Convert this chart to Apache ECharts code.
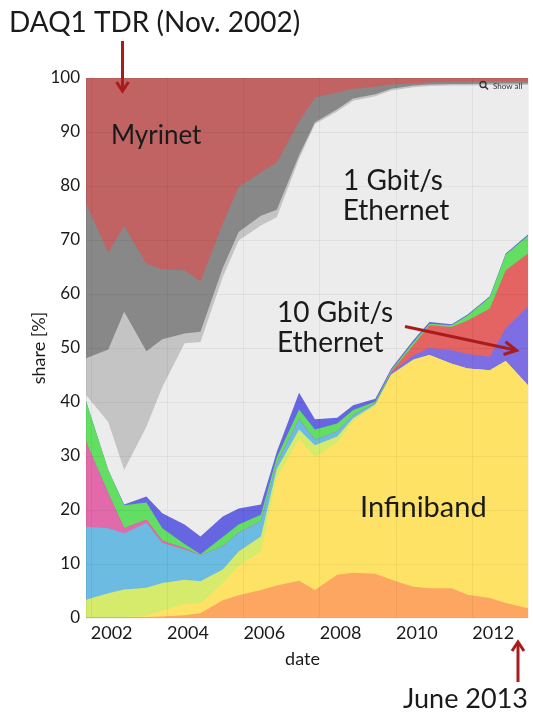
<!DOCTYPE html>
<html><head><meta charset="utf-8">
<script src="https://cdn.jsdelivr.net/npm/echarts@6/dist/echarts.min.js"></script>
<style>html,body{margin:0;padding:0;background:#fff;}#c{width:533px;height:713px;}</style>
</head><body><div id="c"></div>
<script>
// Top500 list dates (June / November)
const dates = ['2001-11','2002-06','2002-11','2003-06','2003-11','2004-06','2004-11','2005-06','2005-11',
  '2006-06','2006-11','2007-06','2007-11','2008-06','2008-11','2009-06','2009-11','2010-06','2010-11',
  '2011-06','2011-11','2012-06','2012-11','2013-06'];
const xTickYears = [2002, 2004, 2006, 2008, 2010, 2012];
// share [%] per interconnect family, bottom to top of the stack
const custom      = [0.2,0.2,0.2,0.2,0.3,0.5,0.9,3.3,4.2,5.2,6.0,6.9,5.2,8.0,8.4,8.2,7.1,5.8,5.5,5.5,4.3,3.7,2.8,1.8];
const infiniband  = [0,0,0,0.2,1.1,2.1,1.8,3.2,5.5,7.1,20.0,26.2,24.6,24.5,28.1,31.1,37.9,42.0,43.2,41.6,41.9,42.2,44.8,41.3];
const quadrics    = [3.2,4.4,5.1,5.2,5.1,4.5,4.1,2.5,2.6,2.8,1.6,1.8,2.2,1.1,0.5,0.3,0.1,0.05,0,0,0,0,0,0];
const crossbar    = [13.5,12.0,10.4,12.0,7.4,5.6,4.8,4.3,3.5,2.8,1.0,1.9,1.0,0.9,0.5,0.2,0.1,0.05,0,0,0,0,0,0];
const spSwitch    = [15.7,6.5,0.9,0.6,0.4,0.2,0,0,0,0,0,0,0,0,0,0,0,0,0,0,0,0,0,0];
const tenGbE      = [0,0,0,0,0,0,0,0,0,0,0,0,0,0,0,0,0.2,0.7,1.3,2.5,2.7,2.5,6.0,14.6];
const proprietary = [0,0,0,0,0,0,0,0,0,0,0,0,0,0,0,0,0.2,2.0,4.2,4.3,6.2,8.9,10.8,9.8];
const numalink    = [7.6,4.3,4.3,3.2,2.3,0.8,0.2,1.7,1.5,1.2,1.1,1.8,1.9,1.5,1.0,0.3,0.3,0.5,0.3,0.3,0.9,2.1,2.9,3.3];
const otherNet    = [0,0,0.1,1.1,2.8,3.6,3.3,3.8,3.0,1.9,1.1,3.1,1.9,1.1,0.9,0.5,0.3,0.4,0.3,0.2,0.2,0.2,0.2,0.2];
const gbE         = [1.1,8.9,6.4,12.9,23.4,33.6,36.0,44.3,49.6,51.7,43.4,43.3,54.7,56.7,56.4,56.0,51.5,46.8,43.7,44.2,42.4,39.1,31.2,27.7];
const fastEth     = [6.8,13.4,29.3,14.0,8.8,1.8,1.9,1.7,1.6,1.8,1.4,0.7,0.3,0.4,0.4,0.4,0.3,0.3,0.3,0.3,0.3,0.3,0.3,0.3];
const mixed       = [28.6,18.0,15.9,16.2,13.0,11.7,9.3,8.2,8.3,8.0,8.8,6.2,4.6,3.1,1.8,1.4,0.8,0.4,0.4,0.4,0.4,0.4,0.4,0.4];
const myrinet     = [23.3,32.3,27.4,34.4,35.4,35.6,37.7,27.0,20.2,17.5,15.6,8.1,3.6,2.7,2.0,1.6,1.2,1.0,0.8,0.7,0.7,0.6,0.6,0.6];

const layers = [
  ['Custom', custom, '#fca662'],
  ['Infiniband', infiniband, '#fee266'],
  ['Quadrics', quadrics, '#d6eb6c'],
  ['Crossbar', crossbar, '#6bbbe2'],
  ['SP Switch', spSwitch, '#e26aaa'],
  ['10 Gbit/s Ethernet', tenGbE, '#7d6ee4'],
  ['Proprietary', proprietary, '#e46464'],
  ['NUMAlink', numalink, '#62de62'],
  ['Other', otherNet, '#6666e2'],
  ['1 Gbit/s Ethernet', gbE, '#ececec'],
  ['Fast Ethernet', fastEth, '#c4c4c4'],
  ['Mixed', mixed, '#888888'],
  ['Myrinet', myrinet, '#c16363']
];

const toYear = d => { const p = d.split('-').map(Number); return p[0] + (p[1] - 0.5) / 12; };
const xs = dates.map(toYear);

// cumulative tops of each layer (stacking done here, drawn top layer first)
const running = xs.map(() => 0);
const stacked = layers.map(([name, vals, color]) => {
  const tops = vals.map((v, i) => (running[i] = +(running[i] + v).toFixed(3)));
  return {name, color, tops};
});

const FONT = 'Lato, "DejaVu Sans", sans-serif';
const INK = '#1a1a1a';
const ARROW = '#a81c1c';

const chart = echarts.init(document.getElementById('c'), null, {renderer: 'canvas'});
chart.setOption({
  animation: false,
  backgroundColor: '#ffffff',
  grid: {left: 86, right: 5, top: 78, bottom: 95},
  xAxis: {
    type: 'value', min: xs[0], max: xs[xs.length - 1], z: 10,
    axisLine: {show: false}, axisTick: {show: false},
    axisLabel: {customValues: xTickYears, formatter: v => String(Math.round(v)), align: 'left',
      margin: 6, fontFamily: FONT, fontSize: 18, color: INK},
    splitLine: {show: true, lineStyle: {color: 'rgba(0,0,0,0.05)', width: 1}},
    name: 'date', nameLocation: 'middle', nameGap: 32, nameMoveOverlap: false,
    nameTextStyle: {fontFamily: FONT, fontSize: 18, color: INK, padding: [0, 9, 0, 0]}
  },
  yAxis: {
    type: 'value', min: 0, max: 100, interval: 10, z: 10,
    axisLine: {show: false}, axisTick: {show: false},
    axisLabel: {margin: 6, fontFamily: FONT, fontSize: 17, color: INK},
    splitLine: {show: true, lineStyle: {color: 'rgba(0,0,0,0.05)', width: 1}},
    name: 'share [%]', nameLocation: 'middle', nameGap: 38, nameRotate: 90, nameMoveOverlap: false,
    nameTextStyle: {fontFamily: FONT, fontSize: 18, color: INK}
  },
  series: stacked.slice().reverse().map(({name, color, tops}) => ({
    name, type: 'line', symbol: 'none', silent: true,
    lineStyle: {width: 0}, areaStyle: {color, opacity: 1, origin: 'start'}, itemStyle: {color},
    emphasis: {disabled: true},
    data: xs.map((x, i) => [x, tops[i]])
  })),
  graphic: [
    {type: 'text', style: {x: 9, y: 23, text: 'DAQ1 TDR (Nov. 2002)', font: '28px ' + FONT, fill: INK, textVerticalAlign: 'middle'}},
    {type: 'text', style: {x: 403, y: 699, text: 'June 2013', font: '27px ' + FONT, fill: INK, textVerticalAlign: 'middle'}},
    {type: 'text', z: 100, style: {x: 111, y: 136, text: 'Myrinet', font: '26px ' + FONT, fill: INK, textVerticalAlign: 'middle'}},
    {type: 'text', z: 100, style: {x: 393, y: 181, text: '1 Gbit/s', font: '28px ' + FONT, fill: INK, textAlign: 'center', textVerticalAlign: 'middle'}},
    {type: 'text', z: 100, style: {x: 396, y: 211, text: 'Ethernet', font: '28px ' + FONT, fill: INK, textAlign: 'center', textVerticalAlign: 'middle'}},
    {type: 'text', z: 100, style: {x: 277, y: 313, text: '10 Gbit/s', font: '28px ' + FONT, fill: INK, textVerticalAlign: 'middle'}},
    {type: 'text', z: 100, style: {x: 277, y: 343, text: 'Ethernet', font: '28px ' + FONT, fill: INK, textVerticalAlign: 'middle'}},
    {type: 'text', z: 100, style: {x: 360, y: 508, text: 'Infiniband', font: '29px ' + FONT, fill: INK, textVerticalAlign: 'middle'}},
    {type: 'text', z: 100, style: {x: 493, y: 86, text: 'Show all', font: '8px ' + FONT, fill: '#333', textVerticalAlign: 'middle'}},
    {type: 'circle', z: 100, shape: {cx: 483, cy: 84.5, r: 3}, style: {fill: 'none', stroke: '#333', lineWidth: 1.3}},
    {type: 'line', z: 100, shape: {x1: 485.2, y1: 86.7, x2: 488, y2: 89.5}, style: {stroke: '#333', lineWidth: 1.6}},
    // arrows
    {type: 'line', z: 100, shape: {x1: 122.5, y1: 41, x2: 122.5, y2: 90}, style: {stroke: ARROW, lineWidth: 3}},
    {type: 'polyline', z: 100, shape: {points: [[116.5, 82], [122.5, 91], [128.5, 82]]}, style: {stroke: ARROW, lineWidth: 3, fill: 'none'}},
    {type: 'line', z: 100, shape: {x1: 518, y1: 682, x2: 518, y2: 643}, style: {stroke: ARROW, lineWidth: 3}},
    {type: 'polyline', z: 100, shape: {points: [[512, 651], [518, 642], [524, 651]]}, style: {stroke: ARROW, lineWidth: 3, fill: 'none'}},
    {type: 'line', z: 100, shape: {x1: 405, y1: 326.5, x2: 515, y2: 350}, style: {stroke: ARROW, lineWidth: 3}},
    {type: 'polyline', z: 100, shape: {points: [[505.5, 341.8], [516.5, 350.4], [503.5, 354.5]]}, style: {stroke: ARROW, lineWidth: 3, fill: 'none'}}
  ]
});
</script>
</body></html>
